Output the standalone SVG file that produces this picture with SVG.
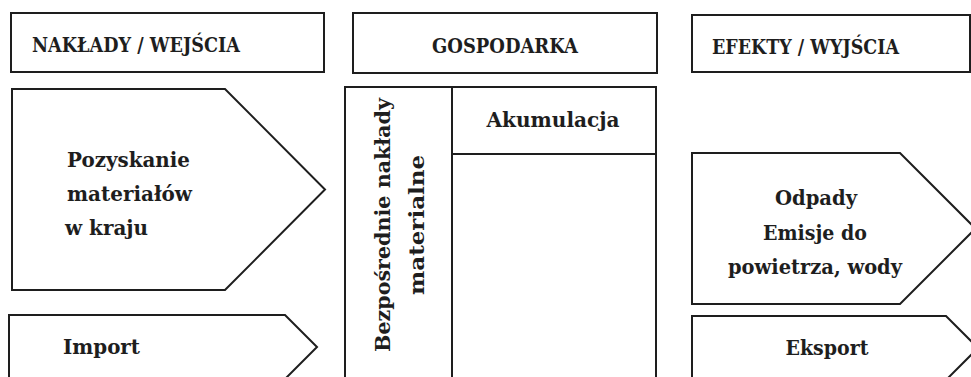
<svg xmlns="http://www.w3.org/2000/svg" width="971" height="377" viewBox="0 0 971 377">
  <style>
    .box { fill: #ffffff; stroke: #1e1e1e; stroke-width: 2; stroke-linejoin: miter; }
    .t { font-family: "DejaVu Serif", "Liberation Serif", serif; font-weight: bold; font-size: 19.5px; fill: #1e1e1e; }
    .c { text-anchor: middle; }
  </style>
  <rect width="971" height="377" fill="#ffffff"/>

  <!-- Column headers -->
  <g id="header-inputs">
    <rect class="box" x="11" y="13" width="313" height="59"/>
    <text class="t" x="32" y="52" textLength="208" lengthAdjust="spacingAndGlyphs">NAKŁADY / WEJŚCIA</text>
  </g>
  <g id="header-economy">
    <rect class="box" x="353" y="13" width="304" height="60"/>
    <text class="t c" x="505" y="53" textLength="146" lengthAdjust="spacingAndGlyphs">GOSPODARKA</text>
  </g>
  <g id="header-outputs">
    <rect class="box" x="692" y="15" width="278" height="57"/>
    <text class="t" x="712" y="54" textLength="187" lengthAdjust="spacingAndGlyphs">EFEKTY / WYJŚCIA</text>
  </g>

  <!-- Inputs -->
  <g id="domestic-extraction">
    <polygon class="box" points="12,89 225,89 325,189.5 225,290 12,290"/>
    <text class="t" x="67" y="167" textLength="123" lengthAdjust="spacingAndGlyphs">Pozyskanie</text>
    <text class="t" x="67" y="201" textLength="125" lengthAdjust="spacingAndGlyphs">materiałów</text>
    <text class="t" x="65" y="235" textLength="83" lengthAdjust="spacingAndGlyphs">w kraju</text>
  </g>
  <g id="imports">
    <polygon class="box" points="9,315 285,315 317,347 285,379 9,379"/>
    <text class="t" x="63" y="354" textLength="77" lengthAdjust="spacingAndGlyphs">Import</text>
  </g>

  <!-- Economy -->
  <g id="direct-material-input">
    <rect class="box" x="345" y="87" width="107" height="295"/>
    <text class="t c" transform="translate(390,225) rotate(-90)" textLength="254" lengthAdjust="spacingAndGlyphs">Bezpośrednie nakłady</text>
    <text class="t c" transform="translate(424,225) rotate(-90)" textLength="140" lengthAdjust="spacingAndGlyphs">materialne</text>
  </g>
  <g id="accumulation">
    <rect class="box" x="452" y="87" width="204" height="67"/>
    <text class="t c" x="553" y="127" textLength="133" lengthAdjust="spacingAndGlyphs">Akumulacja</text>
  </g>
  <g id="economy-body">
    <rect class="box" x="452" y="154" width="204" height="228"/>
  </g>

  <!-- Outputs -->
  <g id="waste-emissions">
    <polygon class="box" points="692,153 900,153 975.5,228.5 900,304 692,304"/>
    <text class="t c" x="816" y="205" textLength="82" lengthAdjust="spacingAndGlyphs">Odpady</text>
    <text class="t c" x="815" y="240" textLength="104" lengthAdjust="spacingAndGlyphs">Emisje do</text>
    <text class="t c" x="815" y="274" textLength="174" lengthAdjust="spacingAndGlyphs">powietrza, wody</text>
  </g>
  <g id="exports">
    <polygon class="box" points="692,316 946,316 978,348 946,380 692,380"/>
    <text class="t c" x="827" y="355" textLength="83" lengthAdjust="spacingAndGlyphs">Eksport</text>
  </g>

  <g id="connectors"></g>
</svg>
